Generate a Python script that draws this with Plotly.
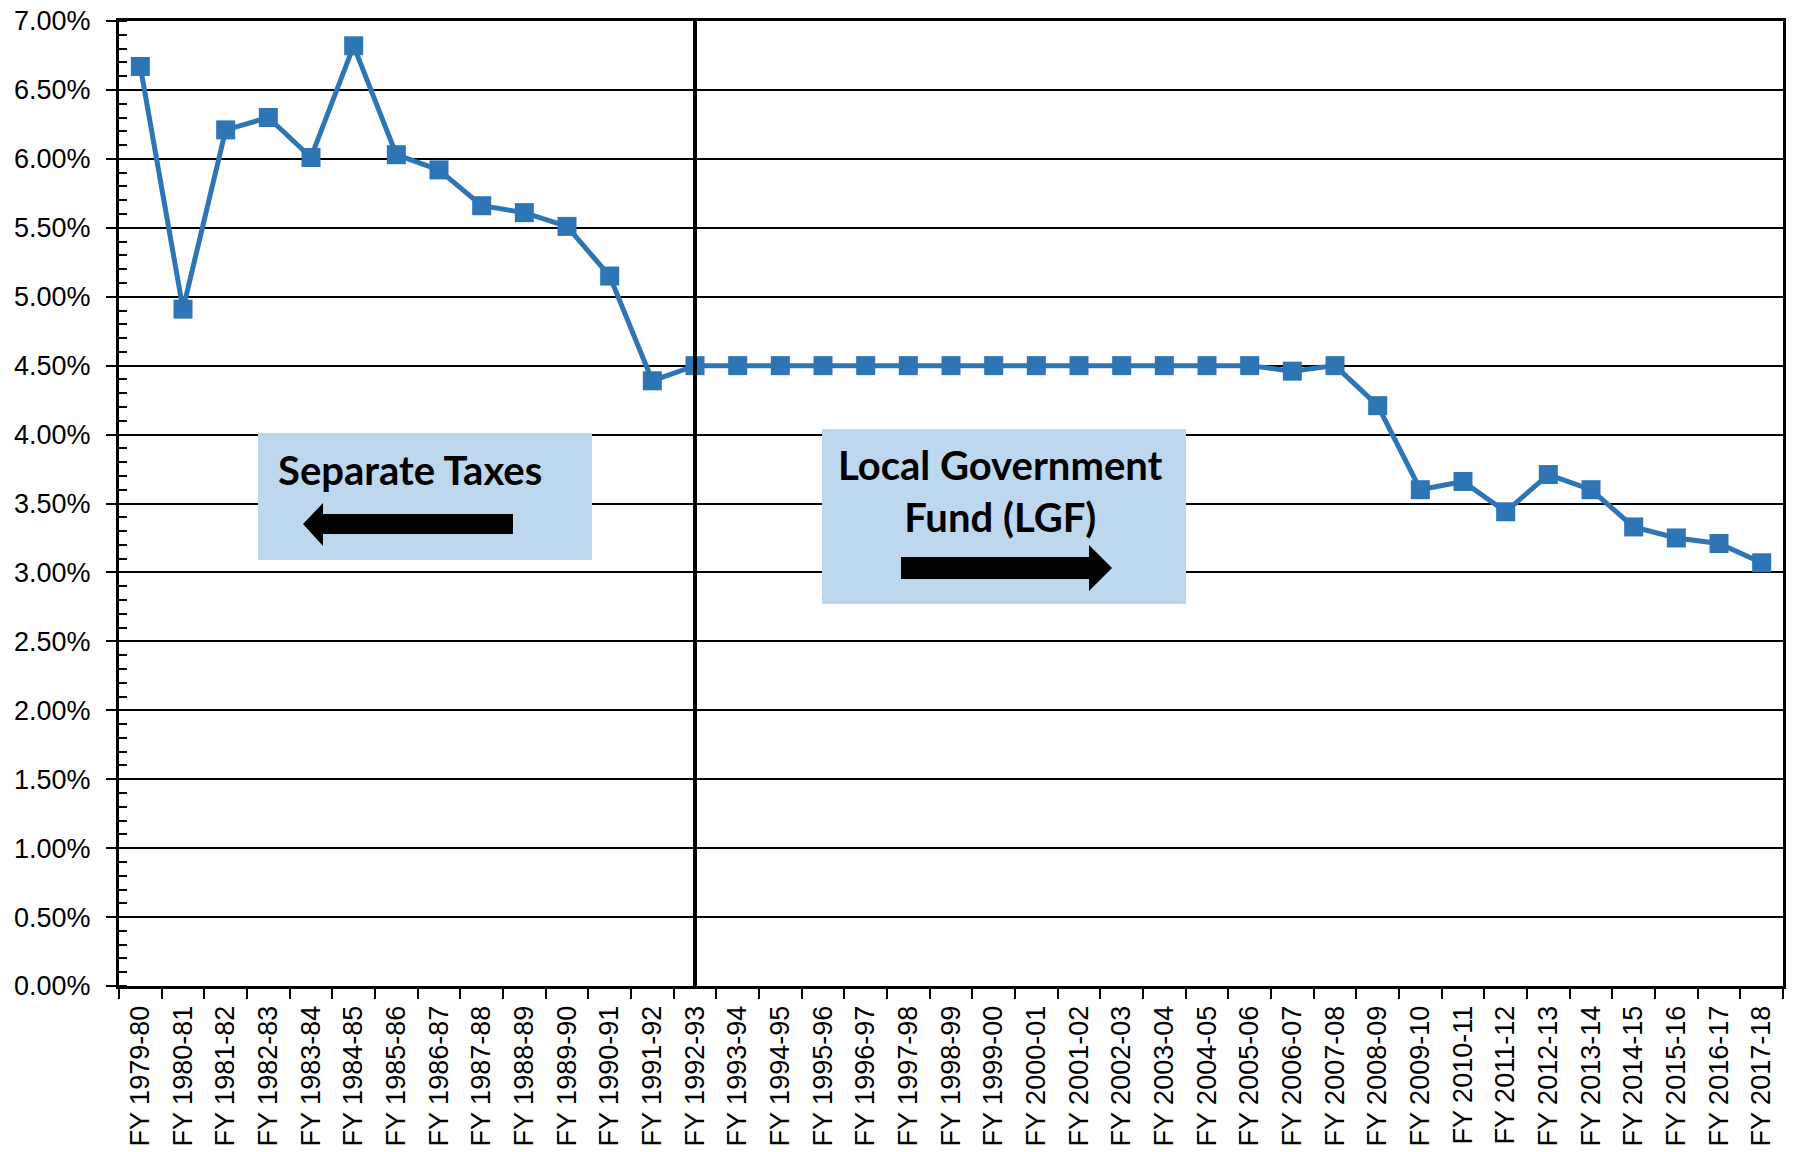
import plotly.graph_objects as go

categories = ["FY 1979-80", "FY 1980-81", "FY 1981-82", "FY 1982-83", "FY 1983-84",
              "FY 1984-85", "FY 1985-86", "FY 1986-87", "FY 1987-88", "FY 1988-89",
              "FY 1989-90", "FY 1990-91", "FY 1991-92", "FY 1992-93", "FY 1993-94",
              "FY 1994-95", "FY 1995-96", "FY 1996-97", "FY 1997-98", "FY 1998-99",
              "FY 1999-00", "FY 2000-01", "FY 2001-02", "FY 2002-03", "FY 2003-04",
              "FY 2004-05", "FY 2005-06", "FY 2006-07", "FY 2007-08", "FY 2008-09",
              "FY 2009-10", "FY 2010-11", "FY 2011-12", "FY 2012-13", "FY 2013-14",
              "FY 2014-15", "FY 2015-16", "FY 2016-17", "FY 2017-18"]
values = [6.67, 4.91, 6.21, 6.30, 6.01,
          6.82, 6.03, 5.92, 5.66, 5.61,
          5.51, 5.15, 4.39, 4.50, 4.50,
          4.50, 4.50, 4.50, 4.50, 4.50,
          4.50, 4.50, 4.50, 4.50, 4.50,
          4.50, 4.50, 4.46, 4.50, 4.21,
          3.60, 3.66, 3.44, 3.71, 3.60,
          3.33, 3.25, 3.21, 3.07]
divider_category = "FY 1992-93"
label_left = "Separate Taxes"
label_right = "Local Government<br>Fund (LGF)"

W, H = 1794, 1152
OFF = 8  # page body margin
# plot area in screen pixels
PL, PR, PT, PB = 119, 1783, 21, 986
ML, MT = PL - OFF, PT - OFF
MR = W - (PR - OFF)
MB = H - (PB - OFF)
PW, PH = PR - PL, PB - PT


def px(X):
    return (X - PL) / PW


def py(Y):
    return (PB - Y) / PH


def path(points):
    return "M " + " L ".join(f"{px(x):.5f},{py(y):.5f}" for x, y in points) + " Z"


fig = go.Figure()
fig.add_trace(go.Scatter(
    x=categories, y=values, mode="lines+markers",
    line=dict(color="#2E75B6", width=5),
    marker=dict(symbol="square", size=19, color="#2E75B6"),
    showlegend=False,
))

shapes = [
    dict(type="line", xref="x", yref="paper", x0=divider_category, x1=divider_category,
         y0=0, y1=1, line=dict(color="black", width=4), layer="above"),
    dict(type="rect", xref="paper", yref="paper", x0=px(258), x1=px(592), y0=py(560), y1=py(433),
         fillcolor="#BDD7EE", line=dict(width=0), layer="above"),
    dict(type="rect", xref="paper", yref="paper", x0=px(822), x1=px(1186), y0=py(604), y1=py(429),
         fillcolor="#BDD7EE", line=dict(width=0), layer="above"),
    dict(type="path", xref="paper", yref="paper",
         path=path([(303, 524), (323, 503), (323, 514), (513, 514), (513, 534), (323, 534), (323, 546)]),
         fillcolor="black", line=dict(width=0), layer="above"),
    dict(type="path", xref="paper", yref="paper",
         path=path([(1112, 568), (1089, 545), (1089, 557), (901, 557), (901, 579), (1089, 579), (1089, 591)]),
         fillcolor="black", line=dict(width=0), layer="above"),
]

annotations = [
    dict(xref="paper", yref="paper", x=px(276), y=py(470), text=f"<b>{label_left}</b>",
         showarrow=False, xanchor="left", yanchor="middle",
         font=dict(family="Lato", size=40, color="black")),
    dict(xref="paper", yref="paper", x=px(1001), y=py(491), text=f"<b>{label_right}</b>",
         showarrow=False, xanchor="center", yanchor="middle", align="center",
         font=dict(family="Lato", size=40, color="black")),
]

fig.update_layout(
    width=W, height=H,
    margin=dict(l=ML, r=MR, t=MT, b=MB, autoexpand=False),
    paper_bgcolor="white", plot_bgcolor="white",
    shapes=shapes, annotations=annotations,
    font=dict(family="Liberation Sans", color="black"),
)
fig.update_xaxes(
    type="category", range=[-0.5, len(categories) - 0.5],
    tickangle=-90, tickson="boundaries",
    ticks="outside", ticklen=10, tickwidth=2, tickcolor="black",
    showline=True, linecolor="black", linewidth=3, mirror=True,
    showgrid=False, tickfont=dict(size=27, family="Liberation Sans"),
    ticklabelstandoff=6, ticklabeloverflow="allow", automargin=False,
)
fig.update_yaxes(
    range=[0, 7], dtick=0.5, tickformat=".2f", ticksuffix="%",
    ticks="outside", ticklen=10, tickwidth=2, tickcolor="black",
    showline=True, linecolor="black", linewidth=3, mirror=True,
    showgrid=True, gridcolor="black", gridwidth=2, zeroline=False,
    minor=dict(dtick=0.1, ticks="inside", ticklen=8, tickwidth=2, tickcolor="black", showgrid=False),
    tickfont=dict(size=27, family="Liberation Sans"),
    ticklabelstandoff=10, ticklabeloverflow="allow", automargin=False,
)

fig.write_html("out.html")
